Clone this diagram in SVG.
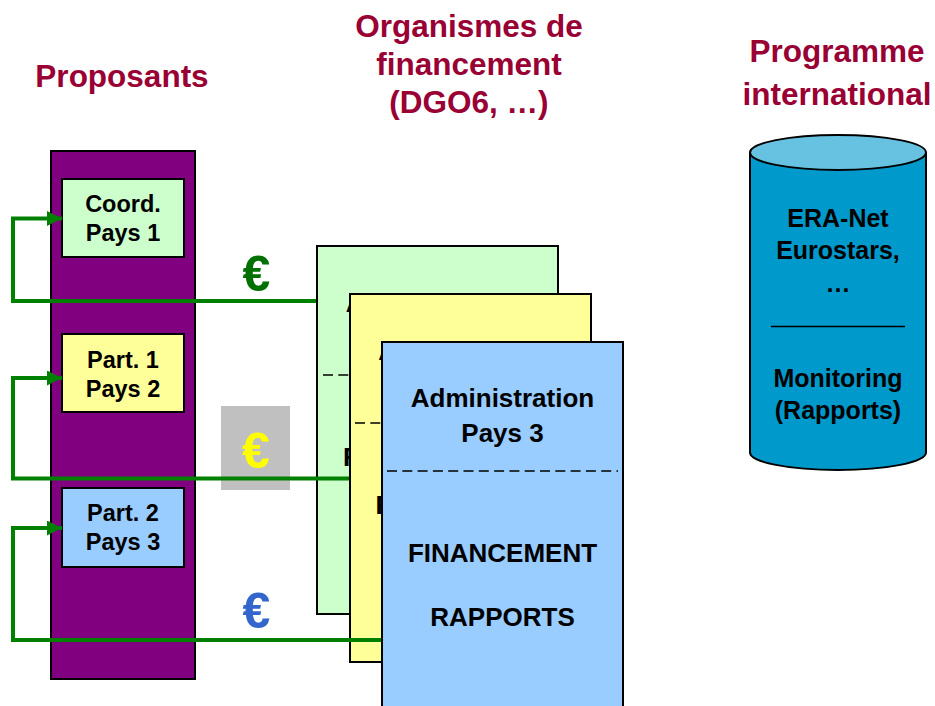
<svg xmlns="http://www.w3.org/2000/svg" width="935" height="706" viewBox="0 0 935 706">
<defs>
<style>
text{font-family:"Liberation Sans",Arial,sans-serif;font-weight:bold;text-anchor:middle}
.title{fill:#990033;font-size:31.5px}
.box{stroke:#000;stroke-width:2}
.lbl{font-size:23.5px;fill:#000}
.ptxt{font-size:26px;fill:#000}
.ctxt{font-size:25px;fill:#000}
.dash{stroke:#000;stroke-width:1.5;stroke-dasharray:10 5.3;fill:none}
.conn{stroke:#008000;stroke-width:4;fill:none}
.euro{font-size:50px}
</style>
<marker id="arr" markerUnits="userSpaceOnUse" markerWidth="16" markerHeight="16" refX="15" refY="7.5" orient="auto">
<path d="M0,0 L15,7.5 L0,15 Z" fill="#008000"/>
</marker>
</defs>
<rect width="935" height="706" fill="#fff"/>

<g id="titles">
<text class="title" x="122" y="87">Proposants</text>
<text class="title" x="469" y="37">Organismes de</text>
<text class="title" x="469" y="75">financement</text>
<text class="title" x="469" y="113">(DGO6, …)</text>
<text class="title" x="837" y="62">Programme</text>
<text class="title" x="837" y="105">international</text>
</g>

<g id="proposants">
<rect class="box" x="51" y="151" width="144" height="528" fill="#800080"/>
</g>
<g id="coord">
<rect class="box" x="62" y="179" width="122" height="78" fill="#CCFFCC"/>
<text class="lbl" x="123" y="212">Coord.</text>
<text class="lbl" x="123" y="241">Pays 1</text>
</g>
<g id="part1">
<rect class="box" x="62" y="334" width="122" height="78" fill="#FFFF99"/>
<text class="lbl" x="123" y="368">Part. 1</text>
<text class="lbl" x="123" y="397">Pays 2</text>
</g>
<g id="part2">
<rect class="box" x="62" y="488" width="122" height="79" fill="#99CCFF"/>
<text class="lbl" x="123" y="521">Part. 2</text>
<text class="lbl" x="123" y="550">Pays 3</text>
</g>

<g id="paper1">
<rect class="box" x="317" y="246" width="241" height="368" fill="#CCFFCC"/>
<text class="ptxt" x="437.5" y="312">Administration</text>
<line class="dash" x1="323" y1="375" x2="553" y2="375"/>
<text class="ptxt" x="437.5" y="466">FINANCEMENT</text>
</g>
<g id="paper2">
<rect class="box" x="350" y="294" width="241" height="368" fill="#FFFF99"/>
<text class="ptxt" x="470" y="360">Administration</text>
<line class="dash" x1="355" y1="423" x2="586" y2="423"/>
<text class="ptxt" x="470" y="514">FINANCEMENT</text>
</g>
<g id="paper3">
<rect class="box" x="382" y="342" width="241" height="370" fill="#99CCFF"/>
<text class="ptxt" x="502.5" y="407">Administration</text>
<text class="ptxt" x="502.5" y="442">Pays 3</text>
<line class="dash" x1="387" y1="471" x2="618" y2="471"/>
<text class="ptxt" x="502.5" y="562">FINANCEMENT</text>
<text class="ptxt" x="502.5" y="626">RAPPORTS</text>
</g>

<g id="programme">
<path d="M750,152.5 V452.5 A88,17.5 0 0 0 926,452.5 V152.5" fill="#0099CC" stroke="#000" stroke-width="2"/>
<ellipse cx="838" cy="152.5" rx="88" ry="17.5" fill="#66C2E0" stroke="#000" stroke-width="2"/>
<text class="ctxt" x="838" y="227">ERA-Net</text>
<text class="ctxt" x="838" y="259">Eurostars,</text>
<text class="ctxt" x="838" y="292">…</text>
<line x1="771" y1="326.5" x2="905" y2="326.5" stroke="#000" stroke-width="1.5"/>
<text class="ctxt" x="838" y="387">Monitoring</text>
<text class="ctxt" x="838" y="419">(Rapports)</text>
</g>

<g id="euro-yellow-bg">
<rect x="221" y="406" width="69" height="84" fill="#C0C0C0"/>
</g>

<g id="connectors">
<path class="conn" d="M316,301 H13 V218.5 H62" marker-end="url(#arr)"/>
<path class="conn" d="M349,478.5 H13 V378 H62" marker-end="url(#arr)"/>
<path class="conn" d="M381,640 H13 V528 H62" marker-end="url(#arr)"/>
</g>

<g id="euros">
<text class="euro" x="256.5" y="291" fill="#007000">€</text>
<text class="euro" x="256" y="468" fill="#FFFF00">€</text>
<text class="euro" x="256.5" y="628" fill="#3366CC">€</text>
</g>
</svg>
